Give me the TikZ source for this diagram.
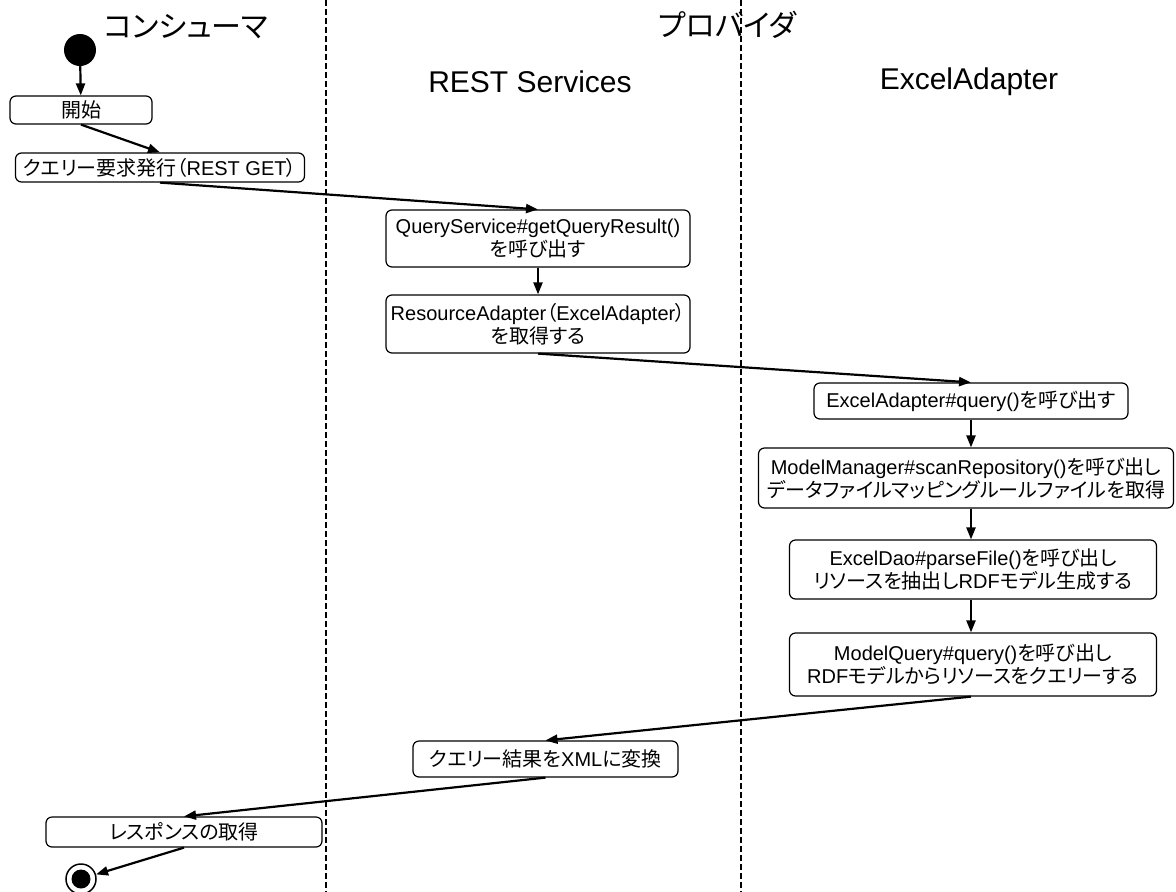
\documentclass[tikz,border=0pt]{standalone}
\usepackage{fontspec}
\setmainfont{Liberation Sans}
\newfontfamily\jp[RawFeature=+palt]{Noto Sans CJK JP}
\usetikzlibrary{arrows.meta}

\begin{document}
\begin{tikzpicture}[x=1pt,y=-1pt]
  \tikzset{every node/.style={font=\fontsize{20}{23}\selectfont}}
  \tikzset{act/.style={draw, line width=1.2pt, rounded corners=6pt, align=center, inner sep=0pt}}
  \tikzset{lane/.style={line width=1.2pt, dash pattern=on 6pt off 3pt}}
  \tikzset{flow/.style={line width=2.2pt, -{Triangle[length=12pt,width=9pt]}}}
  \tikzset{lanehead/.style={font=\fontsize{30}{34}\selectfont}}
  \useasboundingbox (0,0) rectangle (1176,892);

  \coordinate (l1t) at (326,0);
  \coordinate (l1b) at (326,892);
  \coordinate (l2t) at (741,0);
  \coordinate (l2b) at (741,892);
  \draw[lane] (l1t) -- (l1b);
  \draw[lane] (l2t) -- (l2b);

  \node[lanehead] (consumer) at (186,27) {\jp コンシューマ};
  \node[lanehead] (provider) at (727,25) {\jp プロバイダ};
  \node[lanehead] (rest) at (530,82) {REST Services};
  \node[lanehead] (excel) at (969,82) {ExcelAdapter};

  \node[circle, fill, minimum size=32, inner sep=0pt] (start) at (80,50) {};
  \node[act, minimum width=142, minimum height=28] (kaishi) at (81,110) {\jp 開始};
  \node[act, minimum width=289, minimum height=29] (request) at (160,167.5)
    {{\jp クエリー要求発行（}REST GET{\jp ）}};
  \node[act, minimum width=304, minimum height=57] (callqs) at (538,238.5)
    {QueryService\#getQueryResult()\\{\jp を呼び出す}};
  \node[act, minimum width=304, minimum height=58] (getra) at (538,324)
    {ResourceAdapter{\jp （}ExcelAdapter{\jp ）}\\{\jp を取得する}};
  \node[act, minimum width=314, minimum height=36] (callea) at (971,401)
    {ExcelAdapter\#query(){\jp を呼び出す}};
  \node[act, minimum width=415, minimum height=60] (scan) at (966,478)
    {ModelManager\#scanRepository(){\jp を呼び出し}\\{\jp データファイルマッピングルールファイルを取得}};
  \node[act, minimum width=367, minimum height=59] (parse) at (973,569.5)
    {ExcelDao\#parseFile(){\jp を呼び出し}\\{\jp リソースを抽出し}RDF{\jp モデル生成する}};
  \node[act, minimum width=367, minimum height=63] (mquery) at (973,664.5)
    {ModelQuery\#query(){\jp を呼び出し}\\RDF{\jp モデルからリソースをクエリーする}};
  \node[act, minimum width=265, minimum height=36] (toxml) at (545.5,759)
    {{\jp クエリー結果を}XML{\jp に変換}};
  \node[act, minimum width=276, minimum height=30] (resp) at (184,832) {\jp レスポンスの取得};
  \node[circle, draw, line width=1.5pt, minimum size=30, inner sep=0pt] (stop) at (81,879) {};
  \node[circle, fill, minimum size=19, inner sep=0pt] (stopdot) at (stop) {};

  \draw[flow] (start) -- (kaishi);
  \draw[flow] (kaishi.south) -- (request.north);
  \draw[flow] (request.south) -- (callqs.north);
  \draw[flow] (callqs.south) -- (getra.north);
  \draw[flow] (getra.south) -- (callea.north);
  \draw[flow] (callea.south) -- (callea.south |- scan.north);
  \draw[flow] (callea.south |- scan.south) -- (callea.south |- parse.north);
  \draw[flow] (callea.south |- parse.south) -- (callea.south |- mquery.north);
  \draw[flow] (callea.south |- mquery.south) -- (toxml.north);
  \draw[flow] (toxml.south) -- (resp.north);
  \draw[flow] (resp.south) -- (stop);
\end{tikzpicture}
\end{document}
